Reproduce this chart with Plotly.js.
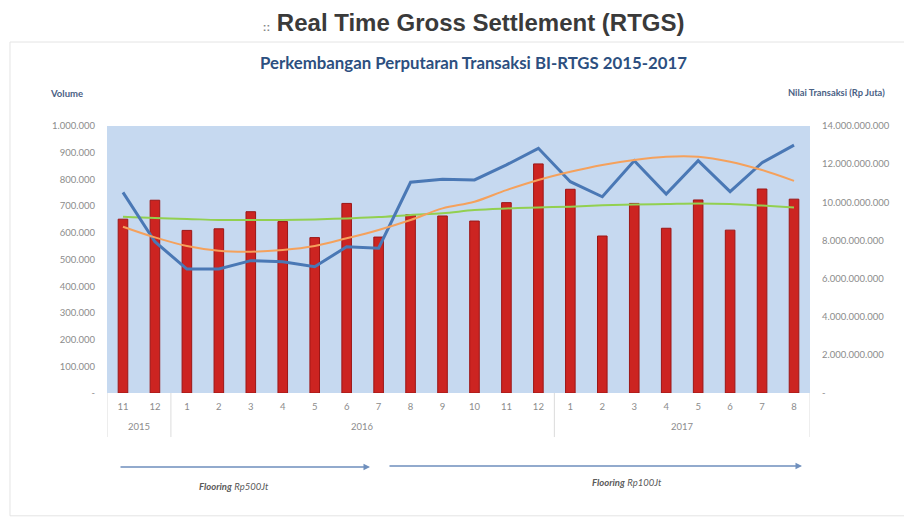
<!DOCTYPE html>
<html>
<head>
<meta charset="utf-8">
<script src="https://cdn.plot.ly/plotly-3.0.1.min.js"></script>
<style>
  html, body { margin: 0; padding: 0; background: #ffffff; }
  #chart { width: 904px; height: 518px; }
</style>
</head>
<body>
<div id="chart"></div>
<script>
// ---- data ----
const years  = ['2015','2015','2016','2016','2016','2016','2016','2016','2016','2016','2016','2016','2016','2016','2017','2017','2017','2017','2017','2017','2017','2017'];
const months = ['11','12','1','2','3','4','5','6','7','8','9','10','11','12','1','2','3','4','5','6','7','8'];

// bars: Volume (left axis)
const volume = [651000, 722000, 609000, 615000, 679000, 642000, 582000, 710000, 584000, 668000, 663000,
                644000, 713000, 858000, 763000, 588000, 710000, 617000, 723000, 610000, 764000, 726000];
// green trend of volume (left axis)
const volumeTrend = [660000, 655000, 652000, 648000, 648000, 648000, 650000, 654000, 659000, 667000, 673000,
                     685000, 691000, 695000, 698000, 703000, 706000, 708000, 710000, 708000, 702000, 695000];
// blue line: Nilai Transaksi (right axis, Rp Juta)
const nilai = [10.52e9, 7.93e9, 6.50e9, 6.50e9, 6.94e9, 6.88e9, 6.62e9, 7.67e9, 7.59e9, 11.05e9, 11.21e9,
               11.17e9, 11.96e9, 12.83e9, 11.08e9, 10.29e9, 12.18e9, 10.43e9, 12.18e9, 10.56e9, 12.08e9, 13.0e9];
// orange trend of nilai (right axis)
const nilaiTrend = [8.72e9, 8.16e9, 7.71e9, 7.46e9, 7.41e9, 7.50e9, 7.71e9, 8.11e9, 8.55e9, 9.07e9, 9.68e9,
                    10.03e9, 10.64e9, 11.17e9, 11.60e9, 11.96e9, 12.22e9, 12.39e9, 12.39e9, 12.13e9, 11.69e9, 11.12e9];

const leftTickVals  = [0, 100000, 200000, 300000, 400000, 500000, 600000, 700000, 800000, 900000, 1000000];
const leftTickText  = ['-', '100.000', '200.000', '300.000', '400.000', '500.000', '600.000', '700.000', '800.000', '900.000', '1.000.000'];
const rightTickVals = [0, 2e9, 4e9, 6e9, 8e9, 10e9, 12e9, 14e9];
const rightTickText = ['-', '2.000.000.000', '4.000.000.000', '6.000.000.000', '8.000.000.000', '10.000.000.000', '12.000.000.000', '14.000.000.000'];

// category positions (index of each month)
const xi = months.map((m, i) => i);

const FONT = 'Lato, "Open Sans", sans-serif';
const tickFont = {family: FONT, size: 9.5, color: '#8c8c8c'};

const traces = [
  {
    type: 'bar', x: xi, y: volume, yaxis: 'y', width: 0.3,
    marker: {color: '#cc2421', line: {color: '#9c1616', width: 1}},
    hoverinfo: 'y', showlegend: false
  },
  {
    type: 'scatter', mode: 'lines', x: xi, y: volumeTrend, yaxis: 'y',
    line: {color: '#92d050', width: 2, shape: 'spline'}, showlegend: false
  },
  {
    type: 'scatter', mode: 'lines', x: xi, y: nilai, yaxis: 'y2',
    line: {color: '#4a78b5', width: 3}, showlegend: false
  },
  {
    type: 'scatter', mode: 'lines', x: xi, y: nilaiTrend, yaxis: 'y2',
    line: {color: '#f5a15c', width: 2, shape: 'spline'}, showlegend: false
  }
];

// year groups -> labels and divider lines
const groups = [];
years.forEach((y, i) => {
  if (!groups.length || groups[groups.length - 1].year !== y) groups.push({year: y, start: i, end: i});
  else groups[groups.length - 1].end = i;
});
const yearAnnotations = groups.map(g => ({
  text: g.year, xref: 'x', yref: 'paper', x: (g.start + g.end) / 2, y: -0.127,
  xanchor: 'center', yanchor: 'middle', showarrow: false, font: tickFont
}));
const dividerPositions = [groups[0].start - 0.5].concat(groups.map(g => g.end + 0.5));
const dividerShapes = dividerPositions.map(p => ({
  type: 'line', xref: 'x', yref: 'paper', x0: p, x1: p, y0: 0, y1: -0.165,
  line: {color: '#dcdcdc', width: 1}
}));

const layout = {
  width: 904, height: 518,
  margin: {l: 107, r: 94, t: 126, b: 125},
  paper_bgcolor: '#ffffff',
  plot_bgcolor: '#c6d9f0',
  showlegend: false,
  xaxis: {
    range: [-0.5, months.length - 0.5],
    tickvals: xi, ticktext: months,
    showgrid: false, zeroline: false, showline: false,
    ticks: '', tickfont: tickFont, ticklabelstandoff: 6,
    fixedrange: true
  },
  yaxis: {
    range: [0, 1000000], tickvals: leftTickVals, ticktext: leftTickText,
    showgrid: false, zeroline: false, showline: false, ticks: '',
    tickfont: tickFont, ticklabelstandoff: 11, fixedrange: true
  },
  yaxis2: {
    overlaying: 'y', side: 'right',
    range: [0, 14e9], tickvals: rightTickVals, ticktext: rightTickText,
    showgrid: false, zeroline: false, showline: false, ticks: '',
    tickfont: tickFont, ticklabelstandoff: 11, fixedrange: true
  },
  title: {
    text: '<span style="font-size:11px;color:#888">::</span> Real Time Gross Settlement (RTGS)',
    x: 0.524, xanchor: 'center', xref: 'container',
    y: 0.957, yanchor: 'middle', yref: 'container',
    font: {family: '"Liberation Sans", Arial, sans-serif', size: 24, color: '#3a3a3a', weight: 'bold'}
  },
  shapes: [
    {type: 'rect', xref: 'paper', yref: 'paper', x0: -0.138, x1: 1.14, y0: -0.46, y1: 1.3146,
     line: {color: '#e4e4e4', width: 1}, fillcolor: 'rgba(0,0,0,0)', layer: 'below'}
  ].concat(dividerShapes),
  annotations: [
    {text: '<b>Perkembangan Perputaran Transaksi BI-RTGS 2015-2017</b>', xref: 'paper', yref: 'paper',
     x: 0.522, y: 1.2397, xanchor: 'center', yanchor: 'middle', showarrow: false,
     font: {family: FONT, size: 16.8, color: '#2c4f80'}},
    {text: '<b>Volume</b>', xref: 'paper', yref: 'paper', x: -0.0569, y: 1.12,
     xanchor: 'center', yanchor: 'middle', showarrow: false,
     font: {family: FONT, size: 9.5, color: '#4a6184'}},
    {text: '<b>Nilai Transaksi (Rp Juta)</b>', xref: 'paper', yref: 'paper', x: 1.037, y: 1.127,
     xanchor: 'center', yanchor: 'middle', showarrow: false,
     font: {family: FONT, size: 9.3, color: '#4a6184'}},
    // arrows
    {text: '', xref: 'paper', yref: 'paper', x: 0.3741, y: -0.2772, ax: -251, ay: 0,
     showarrow: true, arrowhead: 2, arrowsize: 1, arrowwidth: 1.3, arrowcolor: '#6f8fbd'},
    {text: '', xref: 'paper', yref: 'paper', x: 0.9886, y: -0.2734, ax: -414, ay: 0,
     showarrow: true, arrowhead: 2, arrowsize: 1, arrowwidth: 1.3, arrowcolor: '#6f8fbd'},
    {text: '<b><i>Flooring</i></b> <i>Rp500Jt</i>', xref: 'paper', yref: 'paper', x: 0.1807, y: -0.352,
     xanchor: 'center', yanchor: 'middle', showarrow: false,
     font: {family: FONT, size: 9.5, color: '#5a5a5a'}},
    {text: '<b><i>Flooring</i></b> <i>Rp100Jt</i>', xref: 'paper', yref: 'paper', x: 0.7397, y: -0.337,
     xanchor: 'center', yanchor: 'middle', showarrow: false,
     font: {family: FONT, size: 9.5, color: '#5a5a5a'}}
  ].concat(yearAnnotations)
};

Plotly.newPlot('chart', traces, layout, {displayModeBar: false, staticPlot: true});
</script>
</body>
</html>
